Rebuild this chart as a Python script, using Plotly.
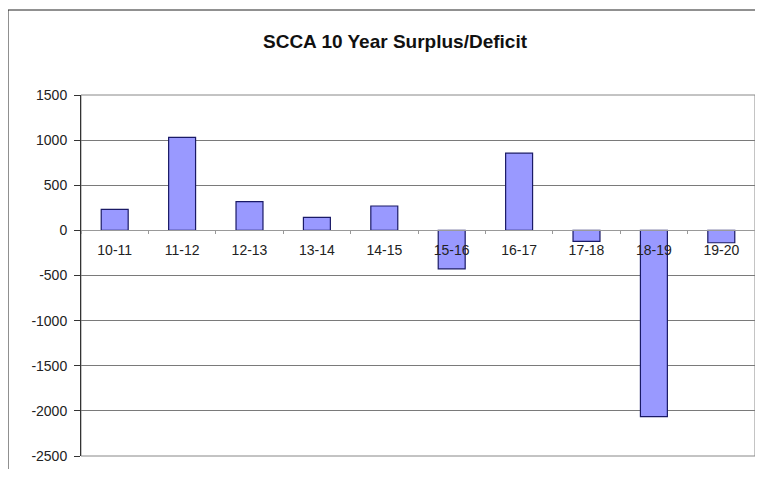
import plotly.graph_objects as go

categories = ["10-11", "11-12", "12-13", "13-14", "14-15", "15-16", "16-17", "17-18", "18-19", "19-20"]
surplus = [233, 1030, 319, 144, 270, -426, 855, -122, -2063, -137]
y_ticks = [1500, 1000, 500, 0, -500, -1000, -1500, -2000, -2500]

# the page body adds an 8px margin; size the figure so it fits the window
OFF = 8
W, H = 763 - 2 * OFF, 477 - 2 * OFF
ml, mt = 81 - OFF, 95 - OFF
mr = 0
mb = H - (456 - OFF)
ymin, ymax = -2500, 1500
zero_pos = (0 - ymin) / (ymax - ymin)
pw, ph = W - ml - mr, H - mt - mb

fig = go.Figure()
fig.add_trace(go.Bar(
    x=categories, y=surplus,
    marker=dict(color="#9999FF", line=dict(color="#1a1a66", width=1.2)),
    width=0.4,
))

font_family = "Liberation Sans, Arial, sans-serif"
frame_x = (8 - OFF - ml) / pw
frame_y = 1 + (mt - (10 - OFF)) / ph
fig.update_layout(
    width=W, height=H,
    margin=dict(l=ml, r=mr, t=mt, b=mb, pad=0),
    paper_bgcolor="white", plot_bgcolor="white",
    showlegend=False,
    title=dict(text="<b>SCCA 10 Year Surplus/Deficit</b>", x=(395 - OFF) / W, xref="container",
               xanchor="center", y=1 - (41 - OFF) / H, yref="container", yanchor="middle",
               font=dict(family=font_family, size=19, color="#111")),
    font=dict(family=font_family, size=14, color="#222"),
    xaxis=dict(
        type="category", anchor="free", position=zero_pos,
        showline=True, linecolor="#999", linewidth=1,
        ticks="outside", tickson="boundaries", ticklen=3, tickcolor="#999",
        showgrid=False, ticklabelstandoff=7,
        tickfont=dict(family=font_family, size=14, color="#222"),
        range=[-0.5, 9.5],
    ),
    yaxis=dict(
        range=[ymin, ymax], tickvals=y_ticks, ticktext=[str(v) for v in y_ticks],
        showgrid=True, gridcolor="#7a7a7a", gridwidth=1,
        zeroline=False,
        showline=True, linecolor="#333", linewidth=1,
        ticks="outside", ticklen=6, tickcolor="#333", ticklabelstandoff=4,
        tickfont=dict(family=font_family, size=14, color="#222"),
    ),
    shapes=[
        dict(type="rect", xref="paper", yref="paper", x0=0, y0=0, x1=1, y1=1,
             line=dict(color="#888", width=1), layer="below"),
        dict(type="line", xref="paper", yref="paper",
             x0=frame_x, x1=1.1, y0=frame_y, y1=frame_y,
             line=dict(color="#222", width=1)),
        dict(type="line", xref="paper", yref="paper",
             x0=frame_x, x1=frame_x, y0=frame_y, y1=-0.2,
             line=dict(color="#222", width=1)),
    ],
)

fig.write_html("out.html")
